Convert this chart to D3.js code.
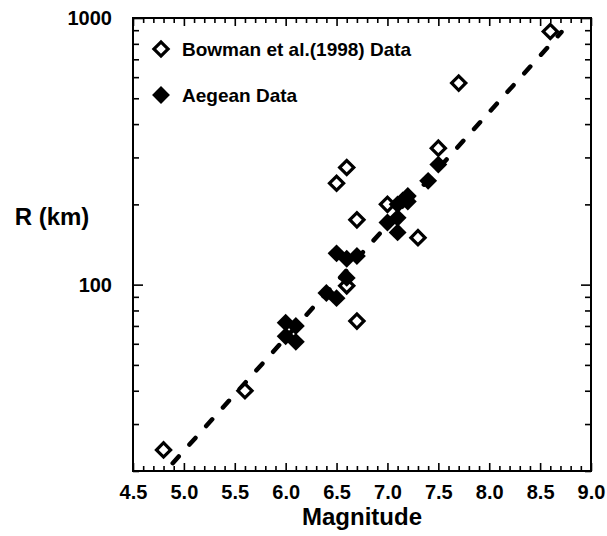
<!DOCTYPE html>
<html>
<head>
<meta charset="utf-8">
<script src="https://cdn.jsdelivr.net/npm/d3@7"></script>
<style>
  html, body { margin: 0; padding: 0; background: #fff; }
  svg { display: block; font-family: "Liberation Sans", Arial, sans-serif; }
</style>
</head>
<body>
<svg id="chart" width="607" height="536"></svg>
<script>
// ---- Data ----
const bowmanMag = [4.8, 5.6, 6.5, 6.6, 6.6, 6.7, 6.7, 7.0, 7.3, 7.5, 7.7, 8.6];
const bowmanR   = [24, 40, 240, 275, 99, 175, 73, 200, 150, 325, 570, 890];

const aegeanMag = [6.0, 6.1, 6.0, 6.1, 6.4, 6.5, 6.6, 6.5, 6.6, 6.7, 7.0, 7.1, 7.1, 7.1, 7.15, 7.2, 7.2, 7.4, 7.5];
const aegeanR   = [72, 70, 64, 61, 93, 89, 106, 131, 125, 128, 171, 178, 157, 200, 207, 215, 205, 245, 282];

const fitMag = [4.89, 8.71];
const fitR   = [21.4, 886];

const xTicks = [4.5, 5.0, 5.5, 6.0, 6.5, 7.0, 7.5, 8.0, 8.5, 9.0];
const yTicks = [100, 1000];
const yMinorTicks = [20, 30, 40, 50, 60, 70, 80, 90, 200, 300, 400, 500, 600, 700, 800, 900];
const legendLabels = ["Bowman et al.(1998) Data", "Aegean Data"];

// ---- Layout ----
const L = 133, R = 591, T = 18, B = 471;
const svg = d3.select("#chart");
const x = d3.scaleLinear().domain([4.5, 9.0]).range([L, R]);
const y = d3.scaleLog().domain([20, 1000]).range([B, T]);

const xMinor = d3.range(45, 91).map(v => v / 10).filter(v => !xTicks.some(t => Math.abs(t - v) < 1e-9));

function styleAxis(g) {
  g.select(".domain").remove();
  g.selectAll(".tick line").attr("stroke", "#000").attr("stroke-width", 1.6);
}

// bottom
svg.append("g").attr("transform", `translate(0,${B})`)
  .call(d3.axisBottom(x).tickValues(xTicks).tickSizeInner(-8).tickSizeOuter(0).tickPadding(14).tickFormat(d3.format(".1f")))
  .call(styleAxis)
  .call(g => g.selectAll("text").attr("font-size", 20).attr("font-weight", "bold").attr("fill", "#000"));
svg.append("g").attr("transform", `translate(0,${B})`)
  .call(d3.axisBottom(x).tickValues(xMinor).tickSizeInner(-5).tickSizeOuter(0).tickFormat(""))
  .call(styleAxis);
// top
svg.append("g").attr("transform", `translate(0,${T})`)
  .call(d3.axisTop(x).tickValues(xTicks).tickSizeInner(-8).tickSizeOuter(0).tickFormat(""))
  .call(styleAxis);
svg.append("g").attr("transform", `translate(0,${T})`)
  .call(d3.axisTop(x).tickValues(xMinor).tickSizeInner(-5).tickSizeOuter(0).tickFormat(""))
  .call(styleAxis);
// left
svg.append("g").attr("transform", `translate(${L},0)`)
  .call(d3.axisLeft(y).tickValues(yTicks).tickSizeInner(-10).tickSizeOuter(0).tickPadding(21).tickFormat(d3.format("d")))
  .call(styleAxis)
  .call(g => g.selectAll("text").attr("font-size", 20).attr("font-weight", "bold").attr("fill", "#000"));
svg.append("g").attr("transform", `translate(${L},0)`)
  .call(d3.axisLeft(y).tickValues(yMinorTicks).tickSizeInner(-6).tickSizeOuter(0).tickFormat(""))
  .call(styleAxis);
// right
svg.append("g").attr("transform", `translate(${R},0)`)
  .call(d3.axisRight(y).tickValues(yTicks).tickSizeInner(-10).tickSizeOuter(0).tickFormat(""))
  .call(styleAxis);
svg.append("g").attr("transform", `translate(${R},0)`)
  .call(d3.axisRight(y).tickValues(yMinorTicks).tickSizeInner(-6).tickSizeOuter(0).tickFormat(""))
  .call(styleAxis);

// frame
svg.append("rect").attr("x", L).attr("y", T).attr("width", R - L).attr("height", B - T)
  .attr("fill", "none").attr("stroke", "#000").attr("stroke-width", 2);

// axis titles
svg.append("text").attr("x", (L + R) / 2).attr("y", 525).attr("text-anchor", "middle")
  .attr("font-size", 24).attr("font-weight", "bold").text("Magnitude");
svg.append("text").attr("x", 52).attr("y", 225).attr("text-anchor", "middle")
  .attr("font-size", 24).attr("font-weight", "bold").text("R (km)");

// fit line
const fitData = fitMag.map((m, i) => ({ m, r: fitR[i] }));
svg.append("path").datum(fitData)
  .attr("d", d3.line().x(d => x(d.m)).y(d => y(d.r)))
  .attr("fill", "none").attr("stroke", "#000").attr("stroke-width", 4.5)
  .attr("stroke-linecap", "round").attr("stroke-dasharray", "9,16");

const openSym = d3.symbol().type(d3.symbolSquare).size(100)();
const fillSym = d3.symbol().type(d3.symbolSquare).size(160)();

// Bowman open diamonds
const bowman = bowmanMag.map((m, i) => ({ m, r: bowmanR[i] }));
svg.append("g").selectAll("path").data(bowman).join("path")
  .attr("d", openSym)
  .attr("transform", d => `translate(${x(d.m)},${y(d.r)}) rotate(45)`)
  .attr("fill", "#fff").attr("stroke", "#000").attr("stroke-width", 3.2);

// Aegean filled diamonds
const aegean = aegeanMag.map((m, i) => ({ m, r: aegeanR[i] }));
svg.append("g").selectAll("path").data(aegean).join("path")
  .attr("d", fillSym)
  .attr("transform", d => `translate(${x(d.m)},${y(d.r)}) rotate(45)`)
  .attr("fill", "#000");

// legend
const lg = svg.append("g");
lg.append("path").attr("d", openSym).attr("transform", "translate(161,49) rotate(45)")
  .attr("fill", "#fff").attr("stroke", "#000").attr("stroke-width", 3.2);
lg.append("path").attr("d", fillSym).attr("transform", "translate(161,95) rotate(45)")
  .attr("fill", "#000");
lg.selectAll("text").data(legendLabels).join("text")
  .attr("x", 182).attr("y", (d, i) => 49 + i * 46).attr("dy", "0.36em")
  .attr("font-size", 19).attr("font-weight", "bold").text(d => d);
</script>
</body>
</html>
